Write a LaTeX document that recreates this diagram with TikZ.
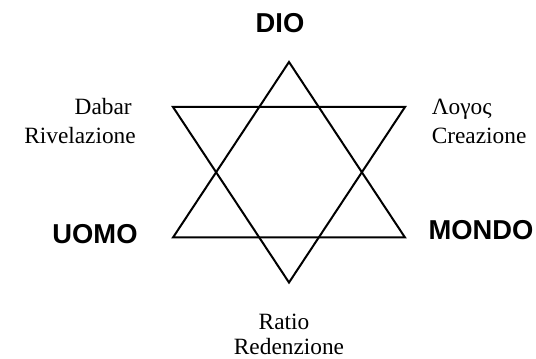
\documentclass[tikz,border=0pt]{standalone}
\usepackage{fontspec}
\setmainfont{Liberation Serif}
\newfontfamily\arialfont{Liberation Sans}
\begin{document}
\begin{tikzpicture}[x=0.75pt,y=-0.75pt,
  star/.style={draw=black,line width=1.5pt,line join=miter},
  bigword/.style={font=\arialfont\bfseries\fontsize{20.5}{24}\selectfont,inner sep=0pt},
  smallword/.style={font=\fontsize{17.5}{20}\selectfont,inner sep=0pt}]
\useasboundingbox (0,0) rectangle (536,359);
\coordinate (T) at (289,62);
\coordinate (B) at (289,282.5);
\coordinate (UL) at (173,107);
\coordinate (UR) at (405,107);
\coordinate (LL) at (173,237.5);
\coordinate (LR) at (405,237.5);
\draw[star] (T) -- (LR) -- (LL) -- cycle;
\draw[star] (B) -- (UL) -- (UR) -- cycle;
\node[bigword,anchor=base] (dio) at (280,33) {DIO};
\node[bigword,anchor=base] (uomo) at (95,244) {UOMO};
\node[bigword,anchor=base] (mondo) at (481,240) {MONDO};
\node[smallword,anchor=base east] (dabar) at (132,115) {Dabar};
\node[smallword,anchor=base east] (rivel) at (136,144) {Rivelazione};
\node[smallword,anchor=base west] (logos) at (431.5,115) {Λογος};
\node[smallword,anchor=base west] (creaz) at (431.5,144) {Creazione};
\node[smallword,anchor=base] (ratio) at (284,330) {Ratio};
\node[smallword,anchor=base] (reden) at (289,355) {Redenzione};
\end{tikzpicture}
\end{document}
